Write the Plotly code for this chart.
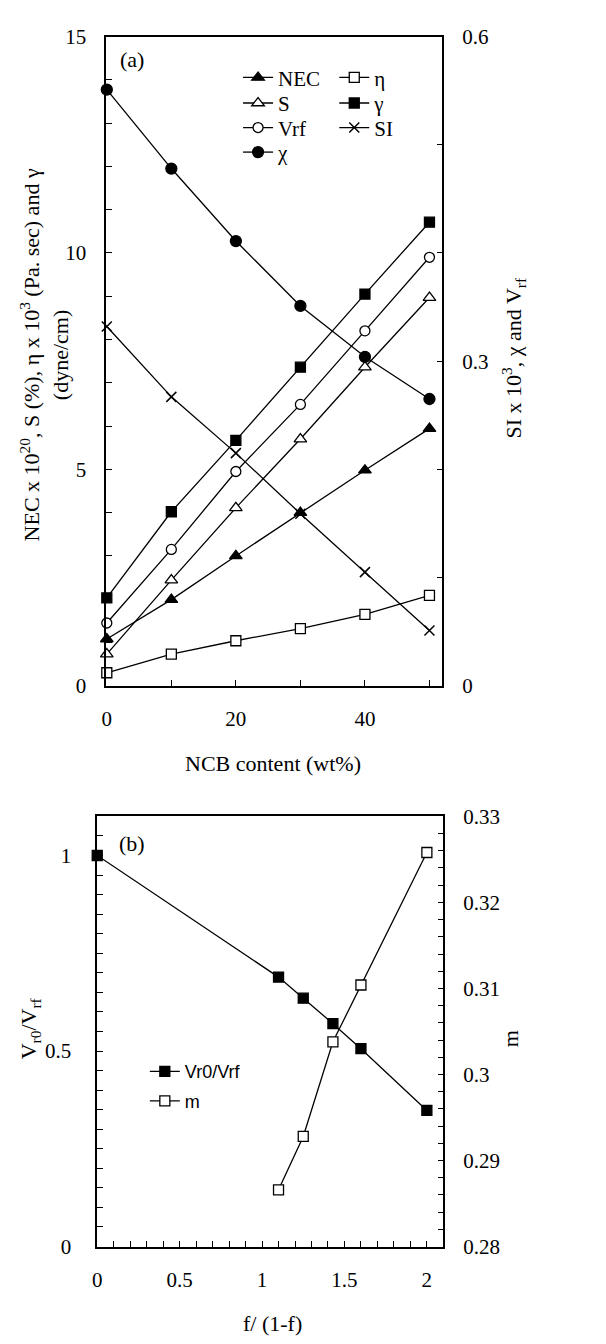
import plotly.graph_objects as go

W, H = 606, 1344

# ---------------- Panel (a) data ----------------
ncb = [0, 10, 20, 30, 40, 50]
nec = [1.08, 1.99, 3.00, 4.00, 4.98, 5.94]
s_pct = [0.73, 2.44, 4.11, 5.70, 7.36, 8.97]
eta = [0.30, 0.73, 1.04, 1.32, 1.65, 2.09]
gamma = [2.03, 4.02, 5.67, 7.36, 9.05, 10.71]
vrf = [0.058, 0.126, 0.198, 0.260, 0.328, 0.396]
si = [0.332, 0.267, 0.215, 0.159, 0.105, 0.051]
chi = [0.551, 0.478, 0.411, 0.351, 0.304, 0.265]

# ---------------- Panel (b) data ----------------
ff = [0, 1.1, 1.25, 1.43, 1.6, 2.0]
vr0_vrf = [1.0, 0.689, 0.635, 0.570, 0.506, 0.348]
ff_m = [1.1, 1.25, 1.43, 1.6, 2.0]
m_vals = [0.2866, 0.2928, 0.3038, 0.3104, 0.3258]

SERIF = "Liberation Serif"
SANS = "Liberation Sans"
FS_TICK = 21
FS_TITLE = 22
FS_LEG = 21


def px(x):
    return x / W


def py(y):
    return 1 - y / H


fig = go.Figure()

LW = 1.3


def add(x, y, name, symbol, fill, xa, ya, legend, size=10):
    fig.add_trace(go.Scatter(
        x=x, y=y, name=name, mode="lines+markers", xaxis=xa, yaxis=ya,
        line=dict(color="black", width=LW),
        marker=dict(symbol=symbol, size=size,
                    color="black" if fill else "white",
                    line=dict(color="black", width=1.3)),
        cliponaxis=False, legend=legend, showlegend=True))


# panel a traces
add(ncb, nec, "NEC", "triangle-up", True, "x", "y", "legend", 11)
add(ncb, s_pct, "S", "triangle-up", False, "x", "y", "legend2", 11)
add(ncb, vrf, "Vrf", "circle", False, "x", "y2", "legend3", 10)
add(ncb, chi, "χ", "circle", True, "x", "y2", "legend4", 11)
add(ncb, eta, "η", "square", False, "x", "y", "legend5", 10)
add(ncb, gamma, "γ", "square", True, "x", "y", "legend6", 10)
fig.add_trace(go.Scatter(
    x=ncb, y=si, name="SI", mode="lines+markers", xaxis="x", yaxis="y2",
    line=dict(color="black", width=LW),
    marker=dict(symbol="x-thin", size=10, color="black",
                line=dict(color="black", width=1.5)),
    cliponaxis=False, legend="legend7"))

# panel b traces
add(ff, vr0_vrf, "Vr0/Vrf", "square", True, "x2", "y3", "legend8", 10)
add(ff_m, m_vals, "m", "square", False, "x2", "y4", "legend9", 10)

axis_common = dict(showline=True, linecolor="black", linewidth=1.5,
                   ticks="inside", ticklen=6, tickwidth=1, tickcolor="black",
                   showgrid=False, zeroline=False,
                   tickfont=dict(family=SERIF, size=FS_TICK, color="black"))

# Panel (a) axes
ya_a = [py(686), py(25)]
xa_a = [px(102), px(441)]
fig.update_layout(
    xaxis=dict(domain=xa_a, anchor="y", range=[-0.1, 52], dtick=20, tick0=0,
               mirror=True, ticklabelstandoff=13,
               minor=dict(dtick=10, tick0=0, ticks="inside", ticklen=6, tickcolor="black"),
               **axis_common),
    yaxis=dict(domain=ya_a, anchor="x", range=[0, 15], dtick=5, tick0=0,
               ticklabelstandoff=14,
               minor=dict(dtick=1, tick0=0, ticks="inside", ticklen=6, tickcolor="black"),
               **axis_common),
    yaxis2=dict(domain=ya_a, anchor="x", overlaying="y", side="right",
                range=[0, 0.6], dtick=0.3, tick0=0, ticklabelstandoff=14,
                minor=dict(dtick=0.1, tick0=0, ticks="inside", ticklen=6, tickcolor="black"),
                **axis_common),
)

# Panel (b) axes
ya_b = [py(1257), py(819)]
xa_b = [px(93), px(442)]
fig.update_layout(
    xaxis2=dict(domain=xa_b, anchor="y3", range=[0, 2.1], dtick=0.5, tick0=0,
                mirror=True, ticklabelstandoff=13,
                minor=dict(dtick=0.1, tick0=0, ticks="inside", ticklen=6, tickcolor="black"),
                **axis_common),
    yaxis3=dict(domain=ya_b, anchor="x2", range=[0, 1.1], dtick=0.5, tick0=0,
                ticklabelstandoff=20,
                minor=dict(dtick=0.05, tick0=0, ticks="inside", ticklen=6, tickcolor="black"),
                **axis_common),
    yaxis4=dict(domain=ya_b, anchor="x2", overlaying="y3", side="right",
                range=[0.28, 0.33], dtick=0.01, tick0=0.28, ticklabelstandoff=14,
                minor=dict(dtick=0.002, tick0=0.28, ticks="inside", ticklen=6, tickcolor="black"),
                **axis_common),
)

# Legends: one entry each, positioned to mimic the reference layout
leg_font = dict(family=SERIF, size=FS_LEG, color="black")
legend_pos = {
    "legend": (240, 67), "legend2": (240, 93), "legend3": (240, 118), "legend4": (240, 143),
    "legend5": (337, 67), "legend6": (337, 93), "legend7": (337, 118),
}
for k, (lx, ly) in legend_pos.items():
    fig.update_layout({k: dict(x=px(lx - 5), y=py(ly), xanchor="left", yanchor="middle",
                               bgcolor="rgba(0,0,0,0)", borderwidth=0, font=leg_font,
                               itemwidth=30, tracegroupgap=0)})
for k, (lx, ly) in {"legend8": (146, 1079), "legend9": (146, 1109)}.items():
    fig.update_layout({k: dict(x=px(lx - 5), y=py(ly), xanchor="left", yanchor="middle",
                               bgcolor="rgba(0,0,0,0)", borderwidth=0,
                               font=dict(family=SANS, size=18, color="black"),
                               itemwidth=30, tracegroupgap=0)})

tf = dict(family=SERIF, size=FS_TITLE, color="black")
ann = [
    dict(text="NEC x 10<sup>20</sup>, S (%), η x 10<sup>3</sup> (Pa. sec) and γ<br>(dyne/cm)",
         x=px(40), y=py(349), textangle=-90),
    dict(text="SI x 10<sup>3</sup>, χ and V<sub>rf</sub>", x=px(513), y=py(352), textangle=-90),
    dict(text="NCB content (wt%)", x=px(270), y=py(765)),
    dict(text="(a)", x=px(128), y=py(48)),
    dict(text="V<sub>r0</sub>/V<sub>rf</sub>", x=px(25), y=py(1035), textangle=-90),
    dict(text="m", x=px(510), y=py(1045), textangle=-90),
    dict(text="f/ (1-f)", x=px(270), y=py(1335)),
    dict(text="(b)", x=px(128), y=py(847)),
]
for a in ann:
    a.update(xref="paper", yref="paper", showarrow=False, font=tf,
             xanchor="center", yanchor="middle")
fig.update_layout(annotations=ann)

fig.update_layout(width=W, height=H, margin=dict(l=0, r=0, t=0, b=0),
                  paper_bgcolor="white", plot_bgcolor="white", showlegend=True)

fig.write_html(
    "out.html", config=dict(displayModeBar=False),
    post_script=("document.documentElement.style.margin='0';"
                 "document.body.style.margin='0';"
                 "document.documentElement.style.overflow='hidden';"
                 "document.body.style.overflow='hidden';"))
